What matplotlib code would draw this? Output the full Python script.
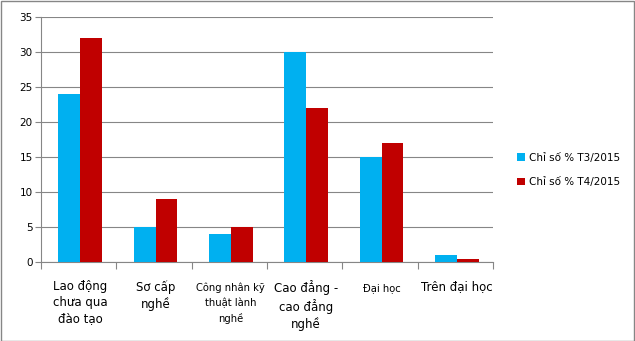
import matplotlib
matplotlib.use("Agg")
import matplotlib.pyplot as plt
import numpy as np
from matplotlib.patches import Rectangle

categories = ["Lao động\nchưa qua\nđào tạo", "Sơ cấp\nnghề", "Công nhân kỹ\nthuật lành\nnghề",
              "Cao đẳng -\ncao đẳng\nnghề", "Đại học", "Trên đại học"]
label_sizes = [8.5, 8.5, 7.2, 8.5, 7.2, 8.5]
series_names = ["Chỉ số % T3/2015", "Chỉ số % T4/2015"]
t3 = [24, 5, 4, 30, 15, 1]
t4 = [32, 9, 5, 22, 17, 0.5]
yticks = [0, 5, 10, 15, 20, 25, 30, 35]

colors = ["#00B0F0", "#C00000"]
gray = "#868686"

plt.rcParams['font.family'] = ['DejaVu Sans']
fig = plt.figure(figsize=(6.35, 3.41), dpi=100)
ax = fig.add_axes([41/635, 1-262/341, (493-41)/635, (262-17)/341])

x = np.arange(len(categories))
w = 0.29
b1 = ax.bar(x - w/2 + 0.02, t3, w, color=colors[0], label=series_names[0], zorder=3)
b2 = ax.bar(x + w/2 + 0.02, t4, w, color=colors[1], label=series_names[1], zorder=3)

ax.set_xlim(-0.5, len(categories) - 0.5)
ax.set_ylim(0, 35)
ax.set_yticks(yticks)
ax.set_yticklabels([str(v) for v in yticks], fontsize=7.5)
ax.yaxis.grid(True, color=gray, linewidth=0.8, zorder=0)
ax.set_axisbelow(True)

ax.set_xticks(np.arange(len(categories) + 1) - 0.5)
ax.set_xticklabels([])
ax.tick_params(axis='x', length=5, color=gray, width=0.8)
ax.tick_params(axis='y', length=4, color=gray, width=0.8, pad=2)
for s in ['top', 'right']:
    ax.spines[s].set_visible(False)
for s in ['left', 'bottom']:
    ax.spines[s].set_color(gray)
    ax.spines[s].set_linewidth(0.8)

for i, (lab, fs) in enumerate(zip(categories, label_sizes)):
    big = fs > 8
    ax.annotate(lab, xy=(i + 0.02, 0), xycoords='data', xytext=(0, -13 if big else -15),
                textcoords='offset points',
                ha='center', va='top', fontsize=fs, linespacing=1.3 if big else 1.55,
                annotation_clip=False)

leg = fig.legend(handles=[b1, b2], labels=series_names, loc='center left',
                 bbox_to_anchor=(508/635, 1-170/341), frameon=False, fontsize=7.5,
                 handlelength=0.7, handleheight=0.7, handletextpad=0.4, labelspacing=1.4)

fig.patches.append(Rectangle((0.5/635, 0.5/341), 1 - 1.5/635, 1 - 1.5/341, transform=fig.transFigure,
                             fill=False, edgecolor=gray, linewidth=1))

fig.savefig("out.png", dpi=100)
